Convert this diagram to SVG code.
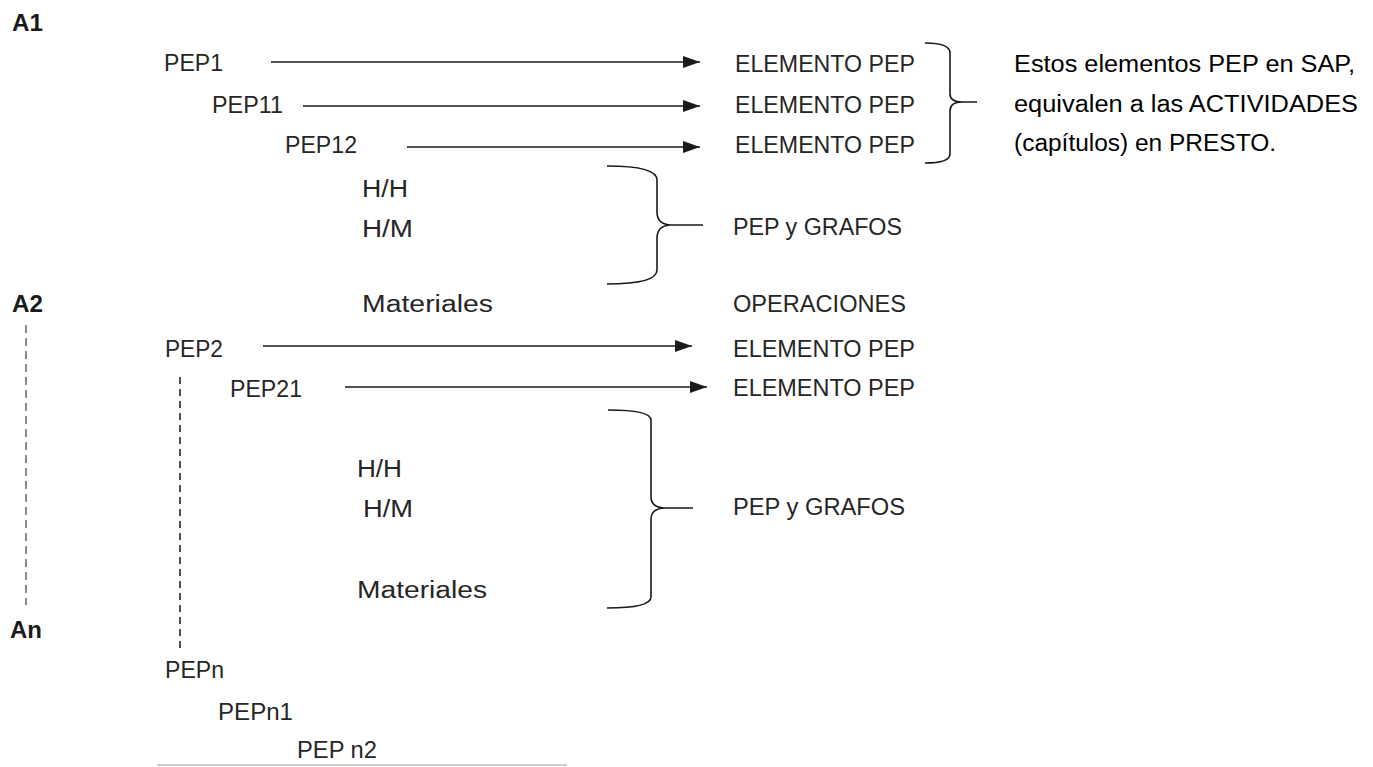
<svg xmlns="http://www.w3.org/2000/svg" width="1373" height="767" viewBox="0 0 1373 767">
<style>
text{font-family:"Liberation Sans",Arial,sans-serif;font-size:23px;fill:#262626}
.b{font-weight:bold;fill:#1a1a1a}
.p{fill:#000}
.ln{stroke:#1a1a1a;stroke-width:1.6;fill:none}
.br{stroke:#1a1a1a;stroke-width:1.6;fill:none}
.d1{stroke:#666;stroke-width:1.5;stroke-dasharray:8 5;fill:none}
.d2{stroke:#222;stroke-width:1.6;stroke-dasharray:7 5;fill:none}
</style>
<defs>
<marker id="ah" markerUnits="userSpaceOnUse" markerWidth="18" markerHeight="12" refX="17" refY="6" orient="auto">
<path d="M0,0 L17,6 L0,12 Z" fill="#1a1a1a"/>
</marker>
</defs>
<rect width="1373" height="767" fill="#fff"/>

<g id="a1"><text class="b" x="12" y="31" textLength="31" lengthAdjust="spacingAndGlyphs">A1</text></g>
<g id="pep1"><text x="164" y="71" textLength="59" lengthAdjust="spacingAndGlyphs">PEP1</text></g>
<g id="pep11"><text x="212" y="113" textLength="71" lengthAdjust="spacingAndGlyphs">PEP11</text></g>
<g id="pep12"><text x="285" y="153" textLength="72" lengthAdjust="spacingAndGlyphs">PEP12</text></g>
<g id="el1"><text x="735" y="72" textLength="180" lengthAdjust="spacingAndGlyphs">ELEMENTO PEP</text></g>
<g id="el2"><text x="735" y="113" textLength="180" lengthAdjust="spacingAndGlyphs">ELEMENTO PEP</text></g>
<g id="el3"><text x="735" y="153" textLength="180" lengthAdjust="spacingAndGlyphs">ELEMENTO PEP</text></g>
<g id="note">
<text class="p" x="1014" y="72" textLength="341" lengthAdjust="spacingAndGlyphs">Estos elementos PEP en SAP,</text>
<text class="p" x="1014" y="112" textLength="344" lengthAdjust="spacingAndGlyphs">equivalen a las ACTIVIDADES</text>
<text class="p" x="1014" y="151" textLength="262" lengthAdjust="spacingAndGlyphs">(capítulos) en PRESTO.</text>
</g>
<g id="hh1"><text x="362" y="197" textLength="46" lengthAdjust="spacingAndGlyphs">H/H</text></g>
<g id="hm1"><text x="362" y="237" textLength="51" lengthAdjust="spacingAndGlyphs">H/M</text></g>
<g id="mat1"><text x="362" y="312" textLength="131" lengthAdjust="spacingAndGlyphs">Materiales</text></g>
<g id="grafos1"><text x="733" y="235" textLength="169" lengthAdjust="spacingAndGlyphs">PEP y GRAFOS</text></g>
<g id="oper"><text x="733" y="312" textLength="173" lengthAdjust="spacingAndGlyphs">OPERACIONES</text></g>
<g id="a2"><text class="b" x="12" y="312" textLength="31" lengthAdjust="spacingAndGlyphs">A2</text></g>
<g id="pep2"><text x="165" y="357" textLength="58" lengthAdjust="spacingAndGlyphs">PEP2</text></g>
<g id="pep21"><text x="230" y="397" textLength="72" lengthAdjust="spacingAndGlyphs">PEP21</text></g>
<g id="el4"><text x="733" y="357" textLength="182" lengthAdjust="spacingAndGlyphs">ELEMENTO PEP</text></g>
<g id="el5"><text x="733" y="396" textLength="182" lengthAdjust="spacingAndGlyphs">ELEMENTO PEP</text></g>
<g id="hh2"><text x="357" y="477" textLength="45" lengthAdjust="spacingAndGlyphs">H/H</text></g>
<g id="hm2"><text x="363" y="517" textLength="50" lengthAdjust="spacingAndGlyphs">H/M</text></g>
<g id="mat2"><text x="357" y="598" textLength="130" lengthAdjust="spacingAndGlyphs">Materiales</text></g>
<g id="grafos2"><text x="733" y="515" textLength="172" lengthAdjust="spacingAndGlyphs">PEP y GRAFOS</text></g>
<g id="an"><text class="b" x="10" y="638" textLength="32" lengthAdjust="spacingAndGlyphs">An</text></g>
<g id="pepn"><text x="165" y="678" textLength="59" lengthAdjust="spacingAndGlyphs">PEPn</text></g>
<g id="pepn1"><text x="218" y="720" textLength="75" lengthAdjust="spacingAndGlyphs">PEPn1</text></g>
<g id="pepn2"><text x="297" y="758" textLength="80" lengthAdjust="spacingAndGlyphs">PEP n2</text></g>

<g id="connectors">
<line class="ln" x1="271" y1="62" x2="700" y2="62" marker-end="url(#ah)"/>
<line class="ln" x1="303" y1="106" x2="700" y2="106" marker-end="url(#ah)"/>
<line class="ln" x1="407" y1="147" x2="700" y2="147" marker-end="url(#ah)"/>
<line class="ln" x1="263" y1="346" x2="692" y2="346" marker-end="url(#ah)"/>
<line class="ln" x1="345" y1="387" x2="707" y2="387" marker-end="url(#ah)"/>
<path class="br" d="M925,43 Q950,43 950,53 L950,94 Q950,102 962,102 L977,102 M962,102 Q950,102 950,111 L950,154 Q950,163 925,163"/>
<path class="br" d="M607,166 Q657,166 657,180 L657,212 Q657,224 670,225 L703,225 M670,225 Q657,226 657,238 L657,270 Q657,284 607,284"/>
<path class="br" d="M608,410 Q651,410 651,420 L651,497 Q651,507 664,508 L693,508 M664,508 Q651,509 651,519 L651,597 Q651,608 607,608"/>
<line class="d1" x1="26" y1="325" x2="26" y2="605"/>
<line class="d2" x1="180" y1="377" x2="180" y2="650"/>
<line x1="157" y1="765" x2="567" y2="765" stroke="#999" stroke-width="1.2"/>
</g>
</svg>
